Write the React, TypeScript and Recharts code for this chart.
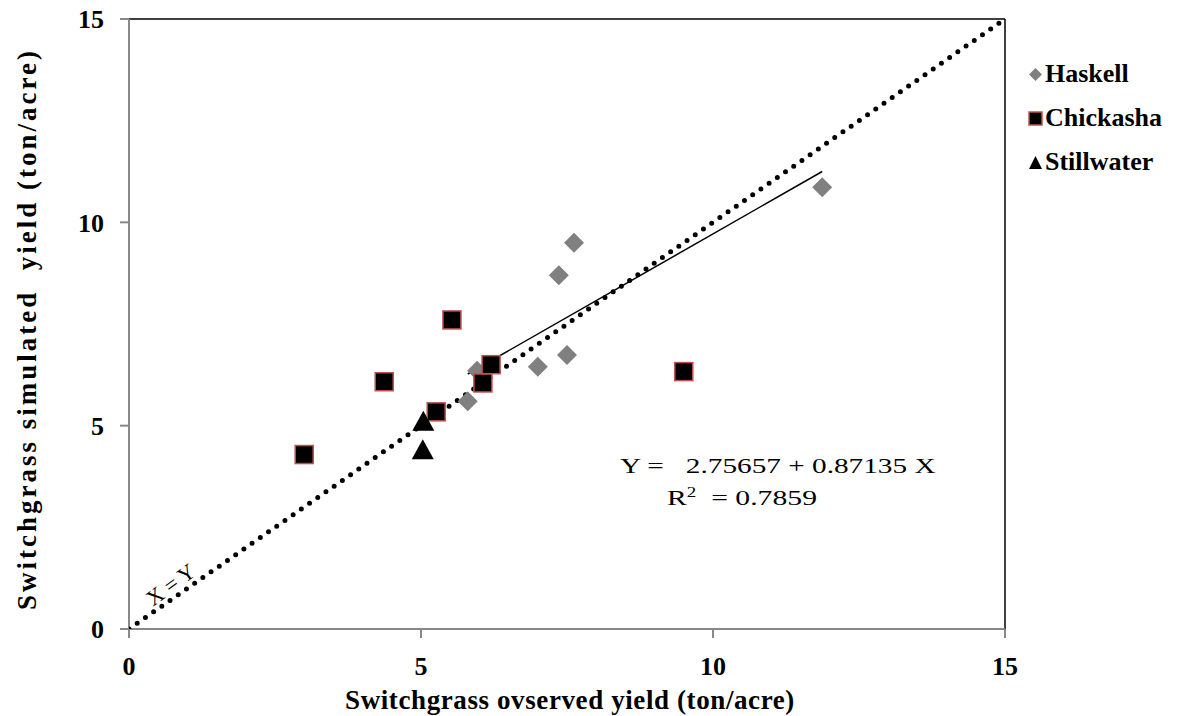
import { ScatterChart, Scatter, XAxis, YAxis, ReferenceLine } from 'recharts';

const haskell = [
  { x: 5.8, y: 5.6 },
  { x: 5.96, y: 6.35 },
  { x: 7.0, y: 6.45 },
  { x: 7.5, y: 6.74 },
  { x: 7.36, y: 8.7 },
  { x: 7.62, y: 9.5 },
  { x: 11.87, y: 10.86 },
];

const chickasha = [
  { x: 3.0, y: 4.29 },
  { x: 4.37, y: 6.08 },
  { x: 5.26, y: 5.34 },
  { x: 5.53, y: 7.6 },
  { x: 6.06, y: 6.05 },
  { x: 6.2, y: 6.5 },
  { x: 9.5, y: 6.33 },
];

const stillwater = [
  { x: 5.04, y: 5.07 },
  { x: 5.03, y: 4.37 },
];

const identityLine = [
  { x: 0, y: 0 },
  { x: 15, y: 15 },
];

const trendLine = [
  { x: 5.8, y: 6.27 },
  { x: 11.87, y: 11.25 },
];

const ticks = [0, 5, 10, 15];

const legendItems = [
  { name: 'Haskell', kind: 'diamond' },
  { name: 'Chickasha', kind: 'square' },
  { name: 'Stillwater', kind: 'triangle' },
];

const FONT = '"Liberation Serif", "Times New Roman", serif';

const Diamond = (p: any) => {
  const { cx, cy } = p;
  const r = 10;
  return <path d={`M${cx},${cy - r}L${cx + r},${cy}L${cx},${cy + r}L${cx - r},${cy}Z`} fill="#808080" />;
};

const Square = (p: any) => {
  const { cx, cy } = p;
  const s = 18;
  return <rect x={cx - s / 2} y={cy - s / 2} width={s} height={s} fill="#000" stroke="#c0504d" strokeWidth={1.5} />;
};

const Triangle = (p: any) => {
  const { cx, cy } = p;
  return <path d={`M${cx},${cy - 12}L${cx + 11},${cy + 8}L${cx - 11},${cy + 8}Z`} fill="#000" />;
};

const NoDot = () => <g />;

function LegendIcon({ kind }: { kind: string }) {
  return (
    <svg width={15} height={15} style={{ marginRight: 2 }}>
      {kind === 'diamond' && <path d="M7.5,1L14,7.5L7.5,14L1,7.5Z" fill="#808080" />}
      {kind === 'square' && <rect x={1} y={1} width={13} height={13} fill="#000" stroke="#c0504d" strokeWidth={1.5} />}
      {kind === 'triangle' && <path d="M7.5,1L14,14L1,14Z" fill="#000" />}
    </svg>
  );
}

const tickStyle = { fontFamily: FONT, fontWeight: 'bold', fontSize: 26, fill: '#000' };

export default function App() {
  return (
    <div style={{ position: 'absolute', left: 0, top: 0, width: 1195, height: 716, background: '#fff' }}>
      <ScatterChart width={1195} height={716} margin={{ top: 19, right: 190, bottom: 47, left: 69 }}>
        <XAxis
          type="number"
          dataKey="x"
          domain={[0, 15]}
          ticks={ticks}
          allowDataOverflow
          stroke="#888"
          strokeWidth={2}
          tickSize={9}
          tick={tickStyle}
          tickMargin={19}
          height={40}
        />
        <YAxis
          type="number"
          dataKey="y"
          domain={[0, 15]}
          ticks={ticks}
          allowDataOverflow
          stroke="#888"
          strokeWidth={2}
          tickSize={9}
          tick={tickStyle}
          tickMargin={16}
          width={60}
        />
        <ReferenceLine y={15} stroke="#000" strokeWidth={1.5} />
        <ReferenceLine x={15} stroke="#000" strokeWidth={1.5} />
        <Scatter
          data={identityLine}
          line={{ stroke: '#000', strokeWidth: 5, strokeDasharray: '0 10', strokeLinecap: 'round' }}
          shape={NoDot}
          isAnimationActive={false}
          legendType="none"
        />
        <Scatter
          data={trendLine}
          line={{ stroke: '#000', strokeWidth: 1.5 }}
          shape={NoDot}
          isAnimationActive={false}
          legendType="none"
        />
        <Scatter name="Haskell" data={haskell} shape={Diamond} isAnimationActive={false} />
        <Scatter name="Chickasha" data={chickasha} shape={Square} isAnimationActive={false} />
        <Scatter name="Stillwater" data={stillwater} shape={Triangle} isAnimationActive={false} />
      </ScatterChart>

      {/* legend */}
      <div style={{ position: 'absolute', left: 1028, top: 52, fontFamily: FONT, fontWeight: 'bold', fontSize: 26 }}>
        {legendItems.map((it) => (
          <div key={it.name} style={{ display: 'flex', alignItems: 'center', height: 44 }}>
            <LegendIcon kind={it.kind} />
            <span>{it.name}</span>
          </div>
        ))}
      </div>

      <div
        style={{
          position: 'absolute',
          left: 570,
          top: 700,
          transform: 'translate(-50%, -50%)',
          whiteSpace: 'pre',
          letterSpacing: 0.6,
          fontFamily: FONT,
          fontWeight: 'bold',
          fontSize: 27,
        }}
      >
        Switchgrass ovserved yield (ton/acre)
      </div>
      <div
        style={{
          position: 'absolute',
          left: 27,
          top: 329,
          transform: 'translate(-50%, -50%) rotate(-90deg)',
          whiteSpace: 'pre',
          letterSpacing: 3,
          fontFamily: FONT,
          fontWeight: 'bold',
          fontSize: 27,
        }}
      >
        Switchgrass simulated  yield (ton/acre)
      </div>
      <div
        style={{
          position: 'absolute',
          left: 620,
          top: 453,
          whiteSpace: 'pre',
          transform: 'scaleX(1.33)',
          transformOrigin: 'left center',
          fontFamily: FONT,
          fontSize: 22,
        }}
      >
        {'Y =   2.75657 + 0.87135 X'}
      </div>
      <div
        style={{
          position: 'absolute',
          left: 667,
          top: 485,
          whiteSpace: 'pre',
          transform: 'scaleX(1.35)',
          transformOrigin: 'left center',
          fontFamily: FONT,
          fontSize: 22,
        }}
      >
        R<sup style={{ fontSize: 14 }}>2</sup>{'  = 0.7859'}
      </div>
      <div
        style={{
          position: 'absolute',
          left: 171,
          top: 585,
          transform: 'translate(-50%, -50%) rotate(-36deg)',
          whiteSpace: 'pre',
          fontFamily: FONT,
          fontSize: 22,
        }}
      >
        X = Y
      </div>
    </div>
  );
}
